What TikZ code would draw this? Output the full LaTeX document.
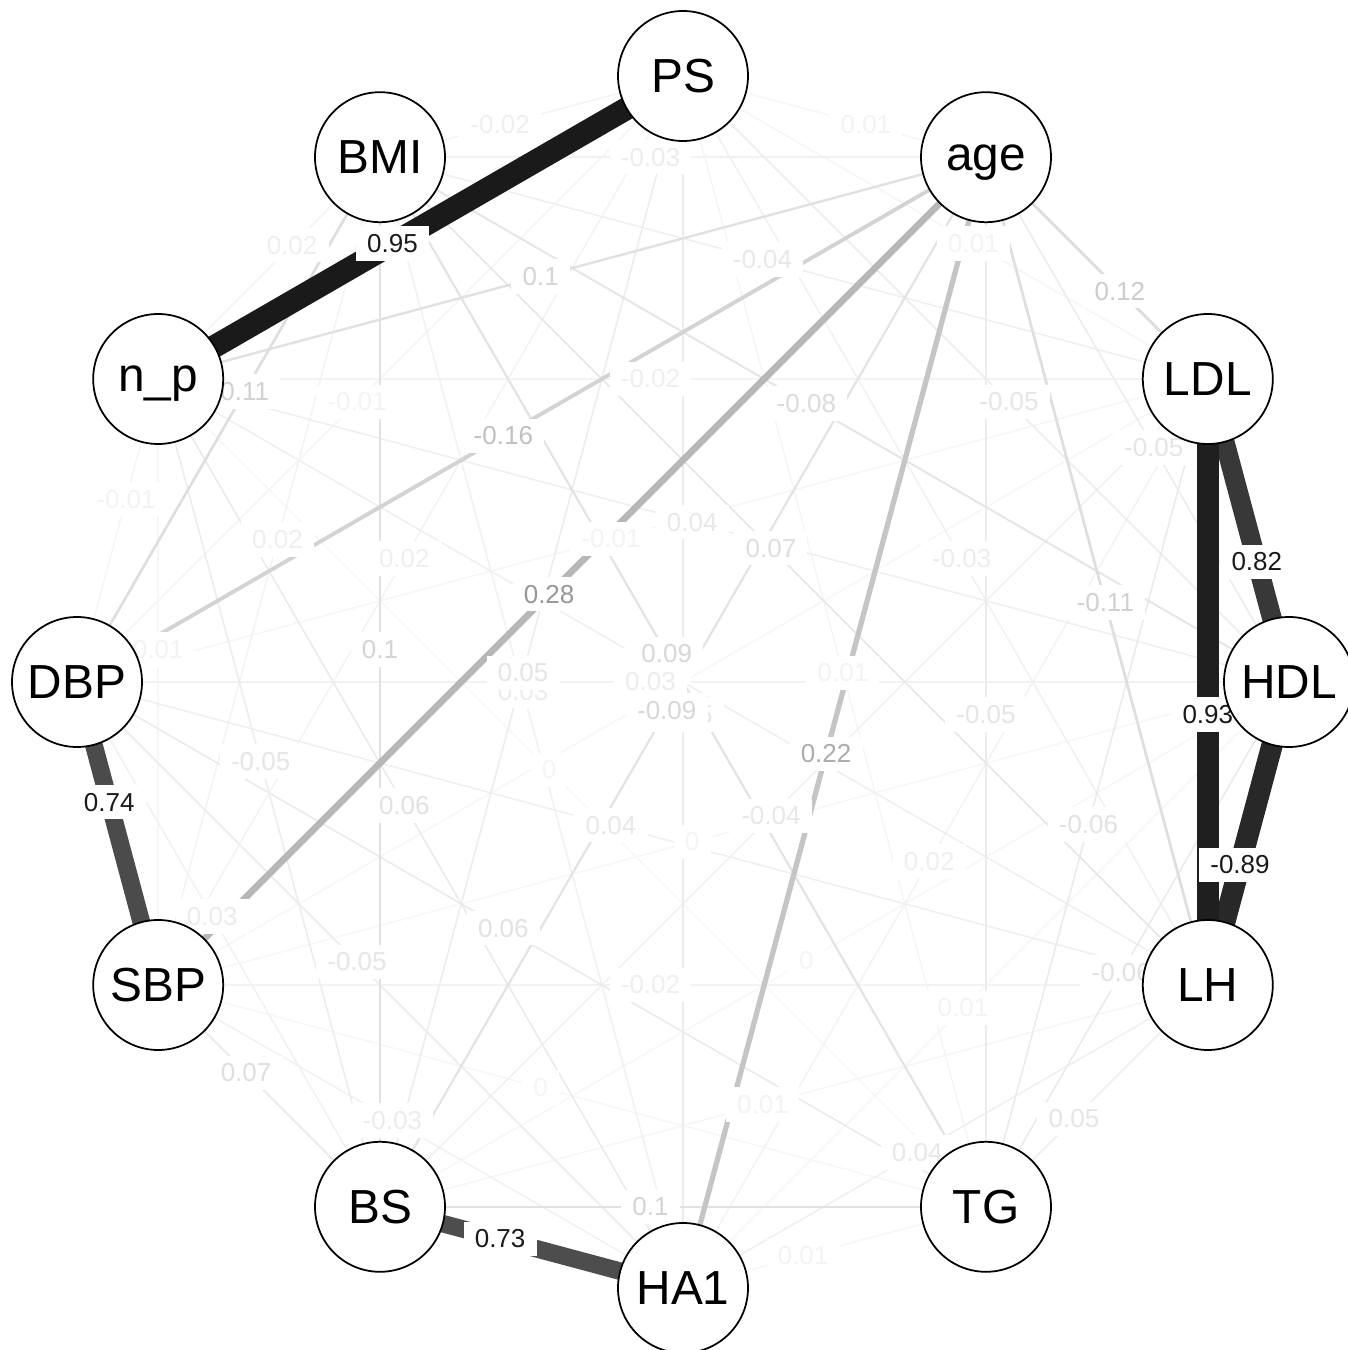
\documentclass[tikz,border=0pt]{standalone}
\usepackage{fontspec}
\setmainfont{Liberation Sans}
\usetikzlibrary{calc}
\pgfdeclarelayer{edgelayer}
\pgfdeclarelayer{labellayer}
\pgfsetlayers{edgelayer,labellayer,main}
\tikzset{
  vnode/.style={circle, draw=black, line width=0.5pt, fill=white,
    minimum size=1.3cm, inner sep=0pt, text depth=0pt,
    font=\fontsize{13.6}{15}\selectfont},
  elab/.style={fill=white, inner xsep=3.2pt, inner ysep=2.3pt,
    font=\fontsize{7.4}{8.5}\selectfont},
}
\begin{document}
\begin{tikzpicture}
\useasboundingbox (0,0) rectangle (13.48,13.50);
\clip (0,0) rectangle (13.48,13.50);
\begin{pgfonlayer}{edgelayer}
  \fill[white] (0,0) rectangle (13.48,13.50);
\end{pgfonlayer}

% variables on a circle, clockwise from the top
\begin{scope}[shift={(6.83,6.68)}]
  \foreach \nm/\ang/\txt in {PS/90/PS, age/60/age, LDL/30/LDL, HDL/0/HDL,
      LH/-30/LH, TG/-60/TG, HA1/-90/HA1, BS/-120/BS, SBP/-150/SBP,
      DBP/180/DBP, np/150/n\_p, BMI/120/BMI}
    \node[vnode] (\nm) at (\ang:6.06) {\txt};
\end{scope}

% correlation edges: width and grey level follow |r|, weakest drawn first
\foreach \na/\nb/\wt/\lab in {
  LDL/SBP/0.003/0, HDL/BS/0.003/0, HDL/SBP/0.003/0, TG/SBP/0.003/0, TG/np/0.003/0,
  PS/age/0.01/0.01, PS/LDL/0.01/0.01, PS/TG/0.01/0.01, PS/DBP/-0.01/-0.01,
  LDL/DBP/-0.01/-0.01, HDL/HA1/0.01/0.01, LH/BS/0.01/0.01, TG/HA1/0.01/0.01,
  SBP/np/0.01/0.01, DBP/np/-0.01/-0.01,
  PS/SBP/0.02/0.02, PS/BMI/-0.02/-0.02, LDL/HA1/0.02/0.02, LDL/np/-0.02/-0.02,
  LH/SBP/-0.02/-0.02, SBP/BMI/0.02/0.02, np/BMI/0.02/0.02,
  PS/LH/-0.03/-0.03, age/BMI/-0.03/-0.03, HA1/SBP/-0.03/-0.03, HA1/BMI/0.03/0.03,
  BS/DBP/0.03/0.03,
  LDL/BS/-0.04/-0.04, LDL/BMI/-0.04/-0.04, LH/HA1/0.04/0.04, LH/DBP/0.04/0.04,
  LH/np/0.04/0.04, HDL/np/0.04/0.04, HDL/DBP/0.03/0.03,
  PS/HDL/-0.05/-0.05, PS/HA1/-0.05/-0.05, PS/BS/0.05/0.05, age/HDL/-0.05/-0.05,
  age/TG/-0.05/-0.05, LH/TG/0.05/0.05, HA1/DBP/-0.05/-0.05, BS/np/-0.05/-0.05,
  LDL/TG/-0.06/-0.06, HDL/TG/-0.06/-0.06, TG/DBP/0.06/0.06, HA1/np/0.06/0.06,
  LH/BMI/0.07/0.07, BS/SBP/0.07/0.07, HDL/BMI/-0.08/-0.08,
  age/BS/-0.09/-0.09, TG/BMI/0.09/0.09,
  age/np/0.1/0.1, TG/BS/0.1/0.1, BS/BMI/0.1/0.1,
  age/LH/-0.11/-0.11, DBP/BMI/0.11/0.11, age/LDL/0.12/0.12, age/DBP/-0.16/-0.16,
  age/HA1/0.22/0.22, age/SBP/0.28/0.28,
  HA1/BS/0.73/0.73, SBP/DBP/0.74/0.74, LDL/HDL/0.82/0.82, HDL/LH/-0.89/-0.89,
  LDL/LH/0.93/0.93, PS/np/0.95/0.95}
{
  \pgfmathsetmacro\lw{max(1.5,24*abs(\wt))*0.2845}
  \pgfmathsetmacro\eg{1-0.898*(0.03+0.97*abs(\wt)/0.95)}
  \pgfmathsetmacro\tg{1-0.898*min(1,0.04+1.4*abs(\wt)/0.95)}
  \definecolor{edgecol}{gray}{\eg}
  \definecolor{labcol}{gray}{\tg}
  \begin{pgfonlayer}{edgelayer}
    \draw[line width=\lw pt, draw=edgecol] (\na.center) -- (\nb.center);
  \end{pgfonlayer}
  \begin{pgfonlayer}{labellayer}
    \node[elab, text=labcol]
      at ($(\na.center)!0.5!(\nb.center)!0.325cm!(\nb.center)$) {\lab};
  \end{pgfonlayer}
}
\end{tikzpicture}
\end{document}
